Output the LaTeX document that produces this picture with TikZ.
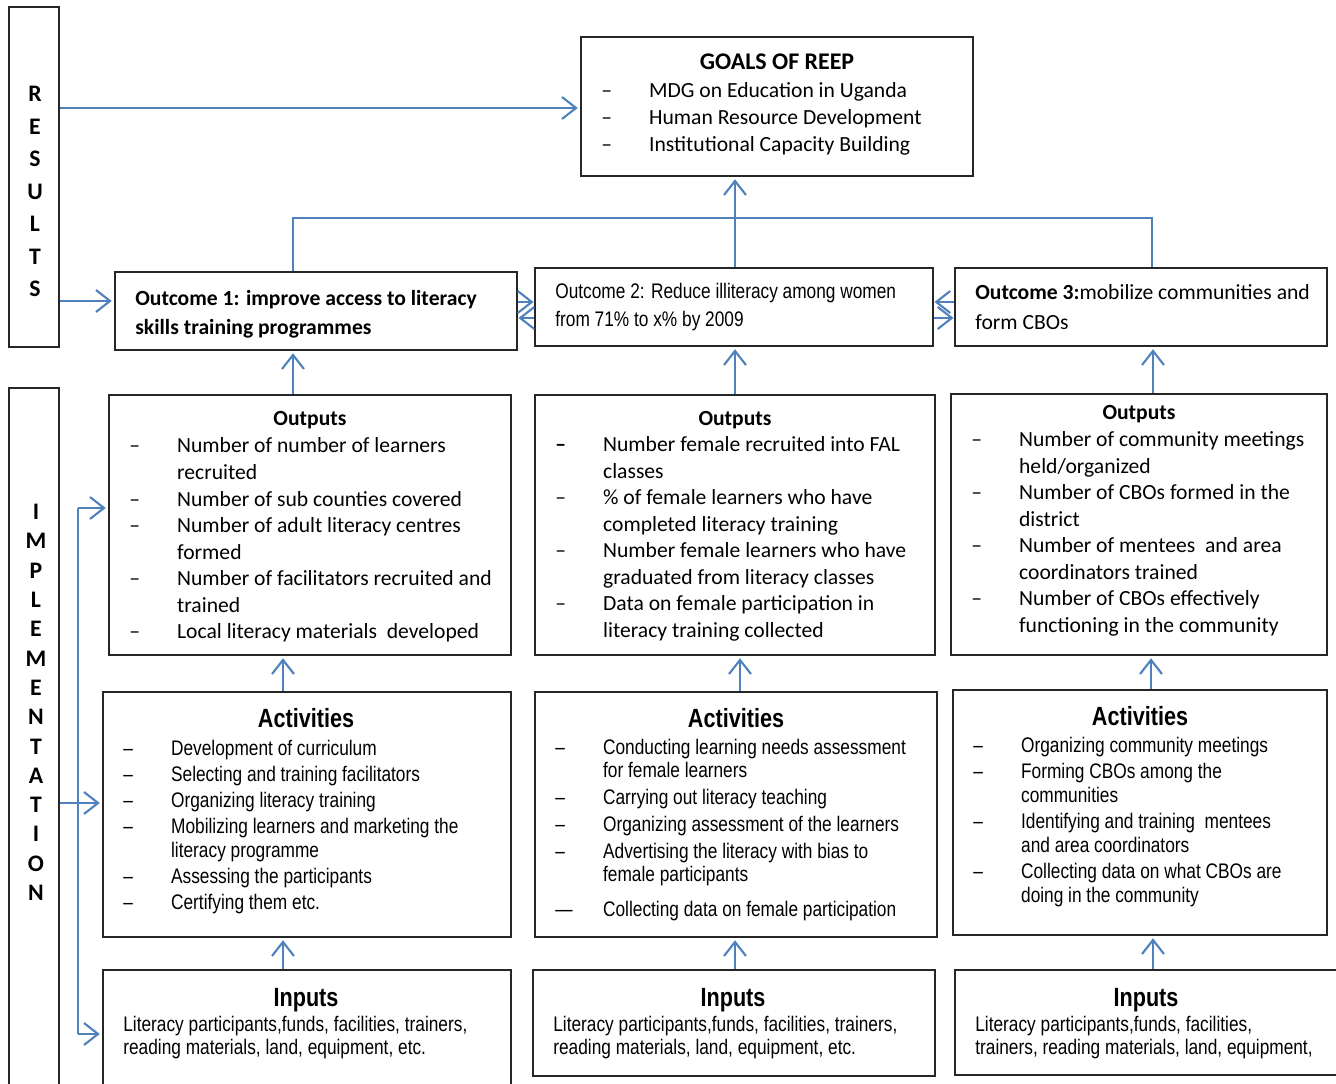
\documentclass[tikz,border=0pt]{standalone}
\usepackage{fontspec}
\setmainfont{Carlito}
\newfontfamily\narrowfont[FakeStretch=0.82]{Liberation Sans}
\usetikzlibrary{arrows.meta, positioning, fit}
\definecolor{linkblue}{RGB}{79,129,189}
% list with a dash column and a text column
\newcommand{\dashlist}[1]{\begin{tabular}[t]{@{}p{27.2pt}@{}l@{}}#1\end{tabular}}
\newcommand{\lines}[1]{\begin{tabular}[t]{@{}l@{}}#1\end{tabular}}
\newcommand{\itemdash}{\textendash}

\begin{document}
\begin{tikzpicture}[x=0.02cm, y=-0.02cm,
    % Frames
    box/.style={draw=black!85, line width=0.7pt, inner sep=0pt},
    % Letters of the side bars
    sideletter/.style={font=\fontsize{13.5}{15}\selectfont\bfseries, inner sep=0pt},
    % Titles
    title/.style={font=\fontsize{12.3}{15}\selectfont\bfseries, anchor=base, inner sep=0pt},
    bigtitle/.style={font=\narrowfont\fontsize{15}{18}\selectfont\bfseries, anchor=base, inner sep=0pt},
    % Body texts (Calibri-like and narrow)
    ctext/.style={font=\fontsize{12.3}{#1}\selectfont, anchor=base west, inner sep=0pt},
    ntext/.style={font=\narrowfont\fontsize{12}{#1}\selectfont, anchor=base west, inner sep=0pt},
    % Connectors
    link/.style={draw=linkblue, line width=1.2pt},
    arrow/.style={link, -{Straight Barb[length=8pt, width=12.5pt]}, shorten >=1.5pt}
]
\useasboundingbox (0,0) rectangle (1336,1084);

% Side bars
\node[box, fit={(9,7) (59,347)}] (results) {};
\node[box, fit={(9,388) (59,1095)}] (impl) {};
\foreach \l [count=\i from 0] in {R,E,S,U,L,T,S}
    \node[sideletter] (res\i) at (35, 94+32.5*\i) {\l};
\foreach \l [count=\i from 0] in {I,M,P,L,E,M,E,N,T,A,T,I,O,N}
    \node[sideletter] (imp\i) at (36, 512+29.3*\i) {\l};

% Goals
\node[box, fit={(581,37) (973,176)}] (goals) {};
\node[title, font=\fontsize{13.6}{15}\selectfont\bfseries] (goalst) at (777,70) {GOALS OF REEP};
\node[ctext=15.3pt] (goalsl) at (601,98) {\dashlist{
    \itemdash & MDG on Education in Uganda\\
    \itemdash & Human Resource Development\\
    \itemdash & Institutional Capacity Building}};

% Outcomes
\node[box, fit={(115,272) (517,350)}] (oc1) {};
\node[ctext=16.4pt] (oc1t) at (135,306) {\bfseries\lines{
    Outcome 1: improve access to literacy\\
    skills training programmes}};
\node[box, fit={(535,268) (933,346)}] (oc2) {};
\node[ntext=15.9pt] (oc2t) at (555,299) {\lines{
    Outcome 2: Reduce illiteracy among women\\
    from 71\% to x\% by 2009}};
\node[box, fit={(955,268) (1327,346)}] (oc3) {};
\node[ctext=17pt] (oc3t) at (975,300) {\lines{
    \textbf{Outcome 3:}mobilize communities and\\
    form CBOs}};

% Outputs
\node[box, fit={(109,395) (511,655)}] (out1) {};
\node[title] (out1t) at (310,426) {Outputs};
\node[ctext=15.1pt] (out1l) at (129,453) {\dashlist{
    \itemdash & Number of number of learners\\
              & recruited\\
    \itemdash & Number of sub counties covered\\
    \itemdash & Number of adult literacy centres\\
              & formed\\
    \itemdash & Number of facilitators recruited and\\
              & trained\\
    \itemdash & Local literacy materials\ \ developed}};

\node[box, fit={(535,395) (935,655)}] (out2) {};
\node[title] (out2t) at (735,426) {Outputs};
\node[ctext=15.07pt] (out2l) at (555,452) {\dashlist{
    {\bfseries\itemdash} & Number female recruited into FAL\\
              & classes\\
    \itemdash & \% of female learners who have\\
              & completed literacy training\\
    \itemdash & Number female learners who have\\
              & graduated from literacy classes\\
    \itemdash & Data on female participation in\\
              & literacy training collected}};

\node[box, fit={(951,394) (1327,655)}] (out3) {};
\node[title] (out3t) at (1139,420) {Outputs};
\node[ctext=15.07pt] (out3l) at (971,447) {\dashlist{
    \itemdash & Number of community meetings\\
              & held/organized\\
    \itemdash & Number of CBOs formed in the\\
              & district\\
    \itemdash & Number of mentees\ \ and area\\
              & coordinators trained\\
    \itemdash & Number of CBOs effectively\\
              & functioning in the community}};

% Activities
\node[box, fit={(103,692) (511,937)}] (act1) {};
\node[bigtitle] (act1t) at (306,727) {Activities};
\node[ntext=13.6pt] (act1l) at (123,755) {\dashlist{
    \itemdash & Development of curriculum\\[1.3pt]
    \itemdash & Selecting and training facilitators\\[1.3pt]
    \itemdash & Organizing literacy training\\[1.3pt]
    \itemdash & Mobilizing learners and marketing the\\
              & literacy programme\\[1.3pt]
    \itemdash & Assessing the participants\\[1.3pt]
    \itemdash & Certifying them etc.}};

\node[box, fit={(535,692) (937,937)}] (act2) {};
\node[bigtitle] (act2t) at (736,727) {Activities};
\node[ntext=13.6pt] (act2l) at (555,754) {\dashlist{
    \itemdash & Conducting learning needs assessment\\
              & for female learners\\[1.6pt]
    \itemdash & Carrying out literacy teaching\\[1.6pt]
    \itemdash & Organizing assessment of the learners\\[1.6pt]
    \itemdash & Advertising the literacy with bias to\\
              & female participants\\[5.9pt]
    \textemdash & Collecting data on female participation}};

\node[box, fit={(953,690) (1327,935)}] (act3) {};
\node[bigtitle] (act3t) at (1140,725) {Activities};
\node[ntext=13.6pt] (act3l) at (973,752) {\dashlist{
    \itemdash & Organizing community meetings\\[1.3pt]
    \itemdash & Forming CBOs among the\\
              & communities\\[1.3pt]
    \itemdash & Identifying and training\ \ mentees\\
              & and area coordinators\\[1.3pt]
    \itemdash & Collecting data on what CBOs are\\
              & doing in the community}};

% Inputs
\node[box, fit={(103,970) (511,1095)}] (in1) {};
\node[bigtitle] (in1t) at (306,1006) {Inputs};
\node[ntext=13.6pt] (in1l) at (123,1031) {\lines{
    Literacy participants,funds, facilities, trainers,\\
    reading materials, land, equipment, etc.}};
\node[box, fit={(533,970) (935,1076)}] (in2) {};
\node[bigtitle] (in2t) at (733,1006) {Inputs};
\node[ntext=13.6pt] (in2l) at (553,1031) {\lines{
    Literacy participants,funds, facilities, trainers,\\
    reading materials, land, equipment, etc.}};
\node[box, fit={(955,970) (1345,1075)}] (in3) {};
\node[bigtitle] (in3t) at (1146,1006) {Inputs};
\node[ntext=13.6pt] (in3l) at (975,1031) {\lines{
    Literacy participants,funds, facilities,\\
    trainers, reading materials, land, equipment,}};

% Results side to goals and outcome 1
\draw[arrow] (results.east |- 0,108) -- (goals.west |- 0,108);
\draw[arrow] (results.east |- 0,301) -- (oc1.west |- 0,301);

% Outcomes up to goals
\draw[link] (oc1.north -| 293,0) -- (293,218) -| (oc3.north -| 1152,0);
\draw[arrow] (oc2.north -| 735,0) -- (goals.south -| 735,0);

% Arrows between outcomes
\draw[arrow, shorten >=0.5pt] (oc1.east |- 0,302) -- (oc2.west |- 0,302);
\draw[arrow, shorten >=0.5pt] (oc2.west |- 0,318) -- (oc1.east |- 0,318);
\draw[arrow, shorten >=0.5pt] (oc3.west |- 0,302) -- (oc2.east |- 0,302);
\draw[arrow, shorten >=0.5pt] (oc2.east |- 0,318) -- (oc3.west |- 0,318);

% Outputs up to outcomes
\draw[arrow] (out1.north -| 293,0) -- (oc1.south -| 293,0);
\draw[arrow] (out2.north -| 735,0) -- (oc2.south -| 735,0);
\draw[arrow] (out3.north -| 1153,0) -- (oc3.south -| 1153,0);

% Activities up to outputs
\draw[arrow] (act1.north -| 283,0) -- (out1.south -| 283,0);
\draw[arrow] (act2.north -| 740,0) -- (out2.south -| 740,0);
\draw[arrow] (act3.north -| 1151,0) -- (out3.south -| 1151,0);

% Inputs up to activities
\draw[arrow] (in1.north -| 283,0) -- (act1.south -| 283,0);
\draw[arrow] (in2.north -| 735,0) -- (act2.south -| 735,0);
\draw[arrow] (in3.north -| 1153,0) -- (act3.south -| 1153,0);

% Implementation side
\coordinate (bustop) at (78,508);
\coordinate (busbot) at (78,1034);
\draw[link] (bustop) -- (busbot);
\draw[arrow] (bustop) -- (out1.west |- bustop);
\draw[arrow] (impl.east |- 0,803) -- (act1.west |- 0,803);
\draw[arrow] (busbot) -- (in1.west |- busbot);

\end{tikzpicture}
\end{document}
